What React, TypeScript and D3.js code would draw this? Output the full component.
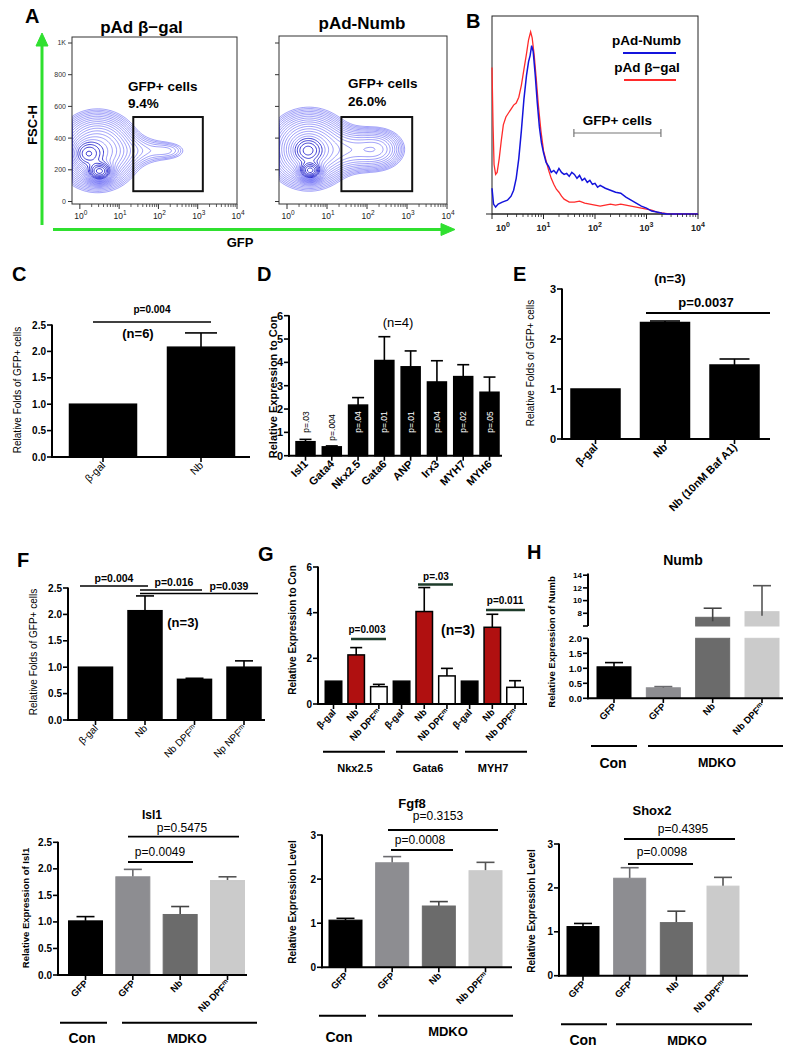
import React from "react";
import * as d3 from "d3";

const FONT = "'Liberation Sans', Arial, Helvetica, sans-serif";

/* ---------------- A: flow cytometry contour plots ---------------- */
const flowTitles = ["pAd β−gal", "pAd-Numb"];
const flowGatePercents = ["9.4%", "26.0%"];
const fscTicks = [0, 200, 400, 600, 800, 1000];
const fscTickLabels = ["0", "200", "400", "600", "800", "1K"];
const logDecades = [0, 1, 2, 3, 4];
// density components: [log10 GFP, FSC, sd(log), sd(FSC), weight]
const betaGalComponents = [
  [0.5, 190, 0.16, 30, 3.0],
  [0.2, 300, 0.2, 45, 1.3],
  [0.45, 320, 0.45, 105, 1.0],
  [1.5, 320, 0.45, 55, 0.1],
  [2.25, 320, 0.3, 35, 0.08],
];
const numbComponents = [
  [0.58, 195, 0.14, 28, 3.0],
  [0.52, 320, 0.2, 45, 1.3],
  [0.55, 330, 0.45, 105, 1.0],
  [1.6, 325, 0.45, 70, 0.3],
  [2.28, 330, 0.33, 65, 0.28],
];
const gateLog = [1.36, 3.13];
const gateFSC = [65, 533];

/* ---------------- B: GFP histogram ---------------- */
const histLegend = ["pAd-Numb", "pAd β−gal"];
const histGateLog = [1.59, 3.28];
const redLog = [0, 0.02, 0.04, 0.07, 0.1, 0.14, 0.18, 0.22, 0.27, 0.32, 0.37, 0.42, 0.47, 0.52, 0.57, 0.62, 0.67, 0.71, 0.75, 0.78, 0.82, 0.86, 0.9, 0.95, 1.0, 1.05, 1.1, 1.15, 1.2, 1.25, 1.3, 1.35, 1.4, 1.5, 1.6, 1.7, 1.8, 1.9, 2.0, 2.1, 2.2, 2.3, 2.4, 2.5, 2.6, 2.7, 2.8, 2.9, 3.0, 3.1, 3.2, 3.3, 3.4, 3.6, 4.0];
const redCount = [74, 45, 25, 20, 21, 28, 37, 45, 49, 51, 53, 55, 56, 59, 65, 73, 81, 88, 92, 89, 80, 68, 55, 42, 32, 27, 22, 18, 15, 12.5, 11, 9, 7.5, 6, 6, 6.5, 5.5, 5, 4.5, 4, 4.5, 5, 4.5, 5, 4.5, 4, 3.5, 3, 2.5, 2, 1, 0.5, 0.2, 0, 0];
const blueLog = [0, 0.03, 0.07, 0.12, 0.2, 0.3, 0.37, 0.42, 0.47, 0.52, 0.57, 0.62, 0.67, 0.71, 0.74, 0.77, 0.8, 0.84, 0.88, 0.92, 0.96, 1.0, 1.05, 1.1, 1.15, 1.2, 1.25, 1.3, 1.35, 1.4, 1.45, 1.5, 1.55, 1.6, 1.65, 1.7, 1.75, 1.8, 1.85, 1.9, 1.95, 2.0, 2.05, 2.1, 2.2, 2.3, 2.4, 2.5, 2.6, 2.7, 2.8, 2.9, 3.0, 3.1, 3.2, 3.3, 3.4, 4.0];
const blueCount = [13, 5, 3.5, 5, 6, 7, 9, 12, 18, 28, 42, 58, 70, 77, 80, 85, 82, 70, 56, 44, 36, 31, 26, 24, 21, 22, 20.5, 23, 21, 20, 20.5, 19, 21, 20, 18, 19.5, 17, 18, 16, 17, 15, 15.5, 13.5, 14.5, 13, 12, 11, 10.5, 8.5, 7, 5.5, 4, 3, 1.5, 1, 0.4, 0, 0];

/* ---------------- C ---------------- */
const cCats = ["β-gal", "Nb"];
const cVals = [1.0, 2.08];
const cErrs = [0, 0.27];
const halfTicks = [0, 0.5, 1, 1.5, 2, 2.5];

/* ---------------- D ---------------- */
const dCats = ["Isl1", "Gata4", "Nkx2.5", "Gata6", "ANP", "Irx3", "MYH7", "MYH6"];
const dVals = [0.6, 0.38, 2.17, 4.08, 3.81, 3.16, 3.39, 2.72];
const dErrs = [0.1, 0.04, 0.32, 1.02, 0.68, 0.91, 0.51, 0.65];
const dPvals = ["p=.03", "p=.004", "p=.04", "p=.01", "p=.01", "p=.04", "p=.02", "p=.05"];
const dTicks = [0, 1, 2, 3, 4, 5, 6];

/* ---------------- E ---------------- */
const eCats = ["β-gal", "Nb", "Nb (10nM Baf A1)"];
const eVals = [1.0, 2.33, 1.48];
const eErrs = [0, 0.03, 0.12];
const eTicks = [0, 1, 2, 3];

/* ---------------- F ---------------- */
const fCats = ["β-gal", "Nb", "Nb DPF^m", "Np NPF^m"];
const fVals = [1.0, 2.07, 0.77, 1.0];
const fErrs = [0, 0.28, 0.02, 0.12];

/* ---------------- G ---------------- */
const gGenes = ["Nkx2.5", "Gata6", "MYH7"];
const gConds = ["β-gal", "Nb", "Nb DPF^m"];
const gVals = [1, 2.15, 0.76, 1, 4.05, 1.23, 1, 3.36, 0.73];
const gErrs = [0, 0.32, 0.1, 0, 1.05, 0.33, 0, 0.57, 0.29];
const gCondColors = ["#000000", "#b01010", "#ffffff"];
const gTicks = [0, 2, 4, 6];

/* ---------------- H and bottom row ---------------- */
const mdkoCats = ["GFP", "GFP", "Nb", "Nb DPF^m"];
const groupNames = ["Con", "MDKO"];
const mdkoColors = ["#000000", "#8d8d91", "#6b6b6b", "#cbcbcb"];
const mdkoErrColors = ["#000000", "#6a6a6e", "#444444", "#555555"];
const numbVals = [1.05, 0.35, 7.37, 8.25];
const numbErrs = [0.14, 0.04, 1.43, 4.1];
const numbLowTicks = [0, 0.5, 1, 1.5, 2];
const numbHighTicks = [6, 8, 10, 12, 14];
const isl1Vals = [1.02, 1.85, 1.14, 1.78];
const isl1Errs = [0.08, 0.14, 0.15, 0.07];
const isl1P = ["p=0.5475", "p=0.0049"];
const fgf8Vals = [1.07, 2.37, 1.39, 2.19];
const fgf8Errs = [0.04, 0.14, 0.1, 0.19];
const fgf8P = ["p=0.3153", "p=0.0008"];
const shox2Vals = [1.12, 2.22, 1.21, 2.04];
const shox2Errs = [0.07, 0.24, 0.26, 0.2];
const shox2P = ["p=0.4395", "p=0.0098"];
const intTicks3 = [0, 1, 2, 3];

/* ---------------- helpers ---------------- */
function lbl(s: string) {
  const i = s.indexOf("^");
  if (i < 0) return s;
  return (
    <>
      {s.slice(0, i)}
      <tspan fontSize="0.7em" dy="-0.5em">{s.slice(i + 1)}</tspan>
    </>
  );
}

const f1 = (v: number) => v.toFixed(1);
const f0 = (v: number) => String(v);

type BCProps = {
  vals: number[]; errs: number[]; labels: string[];
  colors: string[]; strokes?: string[]; errColors?: string[];
  y0: number; yTop: number; yMax: number; ticks: number[]; fmt: (v: number) => string;
  axisX: number; axisEnd: number; c0: number; c1: number; barW: number; capW: number;
  tickFont: number; labelFont: number; labelBold: boolean; barStroke?: number;
};

function BarChart(p: BCProps) {
  const y = d3.scaleLinear().domain([0, p.yMax]).range([p.y0, p.yTop]);
  const x = d3.scalePoint<number>().domain(d3.range(p.vals.length)).range([p.c0, p.c1]);
  return (
    <g>
      {p.vals.map((v, i) => {
        const cx = x(i) as number;
        const e = p.errs[i];
        return (
          <g key={i}>
            {e > 0 && (
              <g stroke={p.errColors ? p.errColors[i] : "#000"} strokeWidth={1.6}>
                <line x1={cx} x2={cx} y1={y(v)} y2={y(v + e)} />
                <line x1={cx - p.capW / 2} x2={cx + p.capW / 2} y1={y(v + e)} y2={y(v + e)} />
              </g>
            )}
            <rect x={cx - p.barW / 2} y={y(v)} width={p.barW} height={p.y0 - y(v)}
              fill={p.colors[i]} stroke={p.strokes ? p.strokes[i] : "#000"} strokeWidth={p.barStroke ?? 1.5} />
          </g>
        );
      })}
      <line x1={p.axisX} x2={p.axisX} y1={p.y0 + 1} y2={y(p.yMax) - 0.5} stroke="#000" strokeWidth={2} />
      <line x1={p.axisX - 1} x2={p.axisEnd} y1={p.y0} y2={p.y0} stroke="#000" strokeWidth={2} />
      {p.ticks.map((t) => (
        <g key={t}>
          <line x1={p.axisX - 5} x2={p.axisX} y1={y(t)} y2={y(t)} stroke="#000" strokeWidth={1.6} />
          <text x={p.axisX - 6} y={y(t)} dy="0.35em" textAnchor="end" fontSize={p.tickFont} fontWeight="bold">{p.fmt(t)}</text>
        </g>
      ))}
      {p.vals.map((_, i) => (
        <line key={i} x1={x(i)} x2={x(i)} y1={p.y0} y2={p.y0 + 5} stroke="#000" strokeWidth={1.6} />
      ))}
      {p.labels.map((l, i) => (
        <text key={i} transform={`translate(${(x(i) as number) + 3},${p.y0 + 9}) rotate(-45)`}
          textAnchor="end" fontSize={p.labelFont} fontWeight={p.labelBold ? "bold" : "normal"}>{lbl(l)}</text>
      ))}
    </g>
  );
}

function YTitle({ x, y, text, size, bold }: { x: number; y: number; text: string; size: number; bold?: boolean }) {
  return (
    <text transform={`translate(${x},${y}) rotate(-90)`} textAnchor="middle" fontSize={size} fontWeight={bold ? "bold" : "normal"}>{text}</text>
  );
}

function Sig({ x1, x2, y, label, ty, tx, size, bold, color, w }: { x1: number; x2: number; y: number; label: string; ty: number; tx?: number; size: number; bold?: boolean; color?: string; w?: number }) {
  return (
    <g>
      <line x1={x1} x2={x2} y1={y} y2={y} stroke={color ?? "#000"} strokeWidth={w ?? 1.8} />
      <text x={tx ?? (x1 + x2) / 2} y={ty} textAnchor="middle" fontSize={size} fontWeight={bold ? "bold" : "normal"}>{label}</text>
    </g>
  );
}

function PanelLetter({ x, y, t }: { x: number; y: number; t: string }) {
  return <text x={x} y={y} fontSize={20} fontWeight="bold">{t}</text>;
}

function Groups({ y, segs, labelXs, labelYs, sizes }: { y: number; segs: number[][]; labelXs: number[]; labelYs: number[]; sizes: number[] }) {
  return (
    <g>
      {segs.map((s, i) => (
        <line key={i} x1={s[0]} x2={s[1]} y1={y} y2={y} stroke="#000" strokeWidth={2} />
      ))}
      {groupNames.map((g, i) => (
        <text key={g} x={labelXs[i]} y={labelYs[i]} textAnchor="middle" fontSize={sizes[i]} fontWeight="bold">{g}</text>
      ))}
    </g>
  );
}

/* ---------------- Flow plot ---------------- */
function FlowPlot({ x0, x1, top, comps, showYLabels, id }: { x0: number; x1: number; top: number; comps: number[][]; showYLabels: boolean; id: string }) {
  const logMin = -0.2, logMax = 4, fMax = 1024;
  const xs = d3.scaleLog().domain([10 ** logMin, 10 ** logMax]).range([x0, x1]);
  const ys = d3.scaleLinear().domain([0, 1000]).range([201.5, 43]);
  const n = 150, m = 120;
  const values: number[] = new Array(n * m);
  for (let j = 0; j < m; j++) {
    for (let i = 0; i < n; i++) {
      const lx = logMin + ((i + 0.5) / n) * (logMax - logMin);
      const f = ((j + 0.5) / m) * fMax;
      let s = 0;
      for (const c of comps) {
        const a = (lx - c[0]) / c[2];
        const b = (f - c[1]) / c[3];
        s += c[4] * Math.exp(-0.5 * (a * a + b * b));
      }
      values[j * n + i] = s;
    }
  }
  const mx = d3.max(values) as number;
  const levels = 22;
  const thresholds = d3.range(levels).map((k) => mx * 0.012 * Math.pow(0.9 / 0.012, k / (levels - 1)));
  const contours = d3.contours().size([n, m]).thresholds(thresholds)(values);
  const proj = d3.geoTransform({
    point: function (this: any, px: number, py: number) {
      this.stream.point(xs(10 ** (logMin + (px / n) * (logMax - logMin))), ys((py / m) * fMax));
    },
  });
  const path = d3.geoPath(proj);
  const minors: number[] = [];
  for (let d = 0; d < 4; d++) for (let k = 2; k <= 9; k++) minors.push(k * 10 ** d);
  const bottom = 204;
  return (
    <g>
      <defs>
        <clipPath id={id}>
          <rect x={x0} y={top} width={x1 - x0} height={bottom - top} />
        </clipPath>
      </defs>
      <g clipPath={`url(#${id})`}>
        {contours.map((c, i) => (
          <path key={i} d={path(c as any) || ""} fill="none" stroke={i > 15 ? "#1010c8" : "#3a3af0"} strokeWidth={i > 15 ? 0.9 : 0.55} strokeOpacity={0.9} />
        ))}
      </g>
      <rect x={x0} y={top} width={x1 - x0} height={bottom - top} fill="none" stroke="#333" strokeWidth={1} />
      <rect x={xs(10 ** gateLog[0])} y={ys(gateFSC[1])} width={xs(10 ** gateLog[1]) - xs(10 ** gateLog[0])} height={ys(gateFSC[0]) - ys(gateFSC[1])} fill="none" stroke="#111" strokeWidth={2} />
      {fscTicks.map((t, i) => (
        <g key={t}>
          <line x1={x0 - 4} x2={x0} y1={ys(t)} y2={ys(t)} stroke="#333" strokeWidth={1} />
          {showYLabels && (
            <text x={x0 - 6} y={ys(t)} dy="0.35em" textAnchor="end" fontSize={7} fill="#333">{fscTickLabels[i]}</text>
          )}
        </g>
      ))}
      {logDecades.map((d) => (
        <g key={d}>
          <line x1={xs(10 ** d)} x2={xs(10 ** d)} y1={bottom} y2={bottom + 5} stroke="#333" strokeWidth={1} />
          <text x={Math.max(xs(10 ** d), x0 + 6) + 1} y={bottom + 15} textAnchor="middle" fontSize={8.5} fill="#222">
            10<tspan fontSize={6.5} dy={-4}>{d}</tspan>
          </text>
        </g>
      ))}
      {minors.map((v) => (
        <line key={v} x1={xs(v)} x2={xs(v)} y1={bottom} y2={bottom + 3} stroke="#333" strokeWidth={0.8} />
      ))}
    </g>
  );
}

/* ---------------- Histogram (B) ---------------- */
function Histogram() {
  const xs = d3.scaleLog().domain([1, 1e4]).range([492, 698]);
  const ys = d3.scaleLinear().domain([0, 100]).range([214, 16]);
  const redLine = d3.line<number>().x((i) => xs(10 ** redLog[i])).y((i) => ys(redCount[i]))(d3.range(redLog.length)) || "";
  const blueLine = d3.line<number>().x((i) => xs(10 ** blueLog[i])).y((i) => ys(blueCount[i]))(d3.range(blueLog.length)) || "";
  const minors: number[] = [];
  for (let d = 0; d < 4; d++) for (let k = 2; k <= 9; k++) minors.push(k * 10 ** d);
  const g0 = xs(10 ** histGateLog[0]), g1 = xs(10 ** histGateLog[1]);
  return (
    <g>
      <rect x={492} y={16} width={206} height={198} fill="none" stroke="#222" strokeWidth={1} />
      <line x1={486} x2={698} y1={214} y2={214} stroke="#222" strokeWidth={1.2} />
      <path d={redLine} fill="none" stroke="#ff2a2a" strokeWidth={1.3} />
      <path d={blueLine} fill="none" stroke="#1414dc" strokeWidth={1.5} />
      {logDecades.map((d) => (
        <g key={d}>
          <line x1={xs(10 ** d)} x2={xs(10 ** d)} y1={214} y2={219} stroke="#222" strokeWidth={1} />
          <text x={Math.max(xs(10 ** d), 503)} y={231} textAnchor="middle" fontSize={9} fontWeight="bold" fill="#222">
            10<tspan fontSize={7} dy={-4}>{d}</tspan>
          </text>
        </g>
      ))}
      {minors.map((v) => (
        <line key={v} x1={xs(v)} x2={xs(v)} y1={214} y2={217} stroke="#222" strokeWidth={0.8} />
      ))}
      <text x={646.5} y={45} textAnchor="middle" fontSize={13.5} fontWeight="bold">{histLegend[0]}</text>
      <line x1={623} x2={676} y1={53} y2={53} stroke="#1414dc" strokeWidth={2} />
      <text x={647} y={72} textAnchor="middle" fontSize={13.5} fontWeight="bold">{histLegend[1]}</text>
      <line x1={624} x2={676} y1={80} y2={80} stroke="#ff2a2a" strokeWidth={2} />
      <text x={(g0 + g1) / 2} y={125} textAnchor="middle" fontSize={13.5} fontWeight="bold">GFP+ cells</text>
      <g stroke="#777" strokeWidth={1.2}>
        <line x1={g0} x2={g1} y1={133} y2={133} />
        <line x1={g0} x2={g0} y1={129} y2={137} />
        <line x1={g1} x2={g1} y1={129} y2={137} />
      </g>
    </g>
  );
}

/* ---------------- Numb (H) broken axis ---------------- */
function NumbPanel() {
  const yLow = d3.scaleLinear().domain([0, 2]).range([698.3, 638.3]);
  const yHigh = d3.scaleLinear().domain([6, 14]).range([626, 575.2]);
  const x = d3.scalePoint<number>().domain(d3.range(numbVals.length)).range([614, 762]);
  const bw = 34, cap = 18, ax = 588;
  return (
    <g>
      {numbVals.map((v, i) => {
        const cx = x(i) as number;
        const e = numbErrs[i];
        const low = yLow(Math.min(v, 2));
        const ec = mdkoErrColors[i];
        return (
          <g key={i}>
            <rect x={cx - bw / 2} y={low} width={bw} height={698.3 - low} fill={mdkoColors[i]} stroke={mdkoColors[i]} strokeWidth={1} />
            {v > 6 && (
              <rect x={cx - bw / 2} y={yHigh(v)} width={bw} height={yHigh(6) - yHigh(v)} fill={mdkoColors[i]} stroke={mdkoColors[i]} strokeWidth={1} />
            )}
            {v <= 2 ? (
              <g stroke={ec} strokeWidth={1.6}>
                <line x1={cx} x2={cx} y1={yLow(v)} y2={yLow(v + e)} />
                <line x1={cx - cap / 2} x2={cx + cap / 2} y1={yLow(v + e)} y2={yLow(v + e)} />
              </g>
            ) : (
              <g stroke={ec} strokeWidth={1.6}>
                <line x1={cx} x2={cx} y1={yHigh(v) + 4} y2={yHigh(v + e)} />
                <line x1={cx - cap / 2} x2={cx + cap / 2} y1={yHigh(v + e)} y2={yHigh(v + e)} />
              </g>
            )}
            <line x1={cx} x2={cx} y1={698.3} y2={703} stroke="#000" strokeWidth={1.6} />
            <text transform={`translate(${cx + 3},${707}) rotate(-45)`} textAnchor="end" fontSize={9.5} fontWeight="bold">{lbl(mdkoCats[i])}</text>
          </g>
        );
      })}
      <line x1={ax} x2={ax} y1={699.3} y2={638.3} stroke="#000" strokeWidth={2} />
      <line x1={ax} x2={ax} y1={626} y2={573.5} stroke="#000" strokeWidth={2} />
      <line x1={ax - 1} x2={783} y1={698.3} y2={698.3} stroke="#000" strokeWidth={2} />
      {numbLowTicks.map((t) => (
        <g key={t}>
          <line x1={ax - 5} x2={ax} y1={yLow(t)} y2={yLow(t)} stroke="#000" strokeWidth={1.6} />
          <text x={ax - 6} y={yLow(t)} dy="0.35em" textAnchor="end" fontSize={9.5} fontWeight="bold">{f1(t)}</text>
        </g>
      ))}
      {numbHighTicks.map((t) => (
        <g key={t}>
          <line x1={ax - 5} x2={ax} y1={yHigh(t)} y2={yHigh(t)} stroke="#000" strokeWidth={1.6} />
          {t > 6 && <text x={ax - 6} y={yHigh(t)} dy="0.35em" textAnchor="end" fontSize={8} fontWeight="bold">{f0(t)}</text>}
        </g>
      ))}
    </g>
  );
}

export default function App() {
  const dX = d3.scalePoint<number>().domain(d3.range(dVals.length)).range([305.5, 489.5]);
  const gLabels = gGenes.flatMap(() => gConds);
  const gColors = gGenes.flatMap(() => gCondColors);
  return (
    <svg width={795} height={1053} style={{ position: "absolute", left: 0, top: 0, background: "#fff" }} fontFamily={FONT}>
      <rect width={795} height={1053} fill="#fff" />
      {/* ---------- A ---------- */}
      <PanelLetter x={25} y={23} t="A" />
      <text x={141.5} y={33} textAnchor="middle" fontSize={17} fontWeight="bold">{flowTitles[0]}</text>
      <text x={362} y={29} textAnchor="middle" fontSize={17} fontWeight="bold">{flowTitles[1]}</text>
      <FlowPlot x0={72} x1={237} top={37} comps={betaGalComponents} showYLabels={true} id="clipA1" />
      <FlowPlot x0={279} x1={447} top={36} comps={numbComponents} showYLabels={false} id="clipA2" />
      <text x={128} y={91} fontSize={13.5} fontWeight="bold">GFP+ cells</text>
      <text x={128} y={108} fontSize={13.5} fontWeight="bold">{flowGatePercents[0]}</text>
      <text x={348} y={88} fontSize={13.5} fontWeight="bold">GFP+ cells</text>
      <text x={348} y={106} fontSize={13.5} fontWeight="bold">{flowGatePercents[1]}</text>
      <g fill="#2fe02f" stroke="#2fe02f">
        <line x1={42} x2={42} y1={225} y2={42} strokeWidth={3} />
        <polygon points="42,33 36,46 48,46" strokeWidth={1} />
        <line x1={53} x2={442} y1={229.5} y2={229.5} strokeWidth={3} />
        <polygon points="455,229.5 441,223.5 441,235.5" strokeWidth={1} />
      </g>
      <YTitle x={37} y={125} text="FSC-H" size={13} bold />
      <text x={240} y={247} textAnchor="middle" fontSize={13} fontWeight="bold">GFP</text>

      {/* ---------- B ---------- */}
      <PanelLetter x={466} y={28} t="B" />
      <Histogram />

      {/* ---------- C ---------- */}
      <PanelLetter x={12} y={281} t="C" />
      <BarChart vals={cVals} errs={cErrs} labels={cCats} colors={["#000", "#000"]} y0={457} yTop={325} yMax={2.5}
        ticks={halfTicks} fmt={f1} axisX={52} axisEnd={250} c0={103} c1={201} barW={67} capW={32}
        tickFont={10} labelFont={10.5} labelBold={false} />
      <YTitle x={21} y={390} text="Relative Folds of GFP+ cells" size={10} />
      <Sig x1={93} x2={211} y={322} label="p=0.004" ty={313} size={10} bold w={1.6} />
      <text x={138} y={338} textAnchor="middle" fontSize={13} fontWeight="bold">(n=6)</text>

      {/* ---------- D ---------- */}
      <PanelLetter x={257} y={281} t="D" />
      <BarChart vals={dVals} errs={dErrs} labels={dCats} colors={dVals.map(() => "#000")} y0={455.7} yTop={315.7} yMax={6}
        ticks={dTicks} fmt={f0} axisX={289} axisEnd={502} c0={305.5} c1={489.5} barW={19} capW={12}
        tickFont={11} labelFont={11} labelBold={true} />
      {dVals.map((v, i) => (
        <text key={i} transform={`translate(${(dX(i) as number) + 3},${i === 1 ? 427.5 : 422}) rotate(-90)`} textAnchor="middle"
          fontSize={8.5} fill={v > 1.5 ? "#fff" : "#000"}>{dPvals[i]}</text>
      ))}
      <YTitle x={277} y={387} text="Relative Expression to Con" size={11} bold />
      <text x={398} y={327} textAnchor="middle" fontSize={13}>(n=4)</text>

      {/* ---------- E ---------- */}
      <PanelLetter x={513} y={281} t="E" />
      <BarChart vals={eVals} errs={eErrs} labels={eCats} colors={eVals.map(() => "#000")} y0={439} yTop={289} yMax={3}
        ticks={eTicks} fmt={f0} axisX={562} axisEnd={770} c0={595.5} c1={734.5} barW={49} capW={30}
        tickFont={11} labelFont={11} labelBold={true} />
      <YTitle x={534} y={363} text="Relative Folds of GFP+ cells" size={10} />
      <text x={670} y={283} textAnchor="middle" fontSize={13} fontWeight="bold">(n=3)</text>
      <Sig x1={646} x2={770} y={313} label="p=0.0037" ty={307} tx={706} size={13} bold w={2} />

      {/* ---------- F ---------- */}
      <PanelLetter x={17} y={567} t="F" />
      <BarChart vals={fVals} errs={fErrs} labels={fCats} colors={fVals.map(() => "#000")} y0={720} yTop={588} yMax={2.5}
        ticks={halfTicks} fmt={f1} axisX={68} axisEnd={265} c0={95.5} c1={244} barW={34} capW={18}
        tickFont={10} labelFont={10} labelBold={false} />
      <YTitle x={37} y={652} text="Relative Folds of GFP+ cells" size={10} />
      <Sig x1={80} x2={148} y={586} label="p=0.004" ty={582} tx={114} size={10.5} bold w={1.5} />
      <Sig x1={140} x2={202} y={590} label="p=0.016" ty={586} tx={174} size={10.5} bold w={1.5} />
      <Sig x1={140} x2={258} y={593.5} label="p=0.039" ty={589.5} tx={229} size={10.5} bold w={1.5} />
      <text x={183} y={627} textAnchor="middle" fontSize={13} fontWeight="bold">(n=3)</text>

      {/* ---------- G ---------- */}
      <PanelLetter x={258} y={561} t="G" />
      <BarChart vals={gVals} errs={gErrs} labels={gLabels} colors={gColors} y0={704} yTop={567} yMax={6}
        ticks={gTicks} fmt={f0} axisX={318} axisEnd={527} c0={333.5} c1={515} barW={16.5} capW={12}
        tickFont={10} labelFont={9.5} labelBold={true} />
      <YTitle x={296} y={630} text="Relative Expression to Con" size={10} bold />
      <Sig x1={351} x2={386} y={639} label="p=0.003" ty={633} tx={367} size={10} bold color="#1d3b2a" w={2.5} />
      <Sig x1={418} x2={453} y={584.5} label="p=.03" ty={579.5} tx={436} size={10} bold color="#1d3b2a" w={2.5} />
      <Sig x1={486} x2={525} y={610} label="p=0.011" ty={604} tx={505} size={10} bold color="#1d3b2a" w={2.5} />
      <text x={458} y={635} textAnchor="middle" fontSize={14} fontWeight="bold">(n=3)</text>
      <g>
        {[[323, 385], [396, 458], [465, 527]].map((s, i) => (
          <line key={i} x1={s[0]} x2={s[1]} y1={751.7} y2={751.7} stroke="#000" strokeWidth={2} />
        ))}
        {gGenes.map((gname, i) => (
          <text key={gname} x={[355, 428, 493][i]} y={772} textAnchor="middle" fontSize={11} fontWeight="bold">{gname}</text>
        ))}
      </g>

      {/* ---------- H ---------- */}
      <PanelLetter x={527} y={559} t="H" />
      <text x={683} y={565} textAnchor="middle" fontSize={14} fontWeight="bold">Numb</text>
      <NumbPanel />
      <YTitle x={555} y={642} text="Relative Expression of Numb" size={9.5} bold />
      <Groups y={746} segs={[[591, 637], [648, 783]]} labelXs={[613, 717]} labelYs={[768, 767]} sizes={[14, 12.5]} />

      {/* ---------- Isl1 ---------- */}
      <text x={152} y={819} textAnchor="middle" fontSize={12} fontWeight="bold">Isl1</text>
      <BarChart vals={isl1Vals} errs={isl1Errs} labels={mdkoCats} colors={mdkoColors} strokes={mdkoColors} errColors={mdkoErrColors}
        y0={975} yTop={842.3} yMax={2.5} ticks={halfTicks} fmt={f1} axisX={58} axisEnd={247} c0={85.5} c1={227.5} barW={34} capW={18}
        tickFont={10} labelFont={9.5} labelBold={true} barStroke={1} />
      <YTitle x={29} y={908} text="Relative Expression of Isl1" size={9.5} bold />
      <Sig x1={128} x2={239} y={836.7} label={isl1P[0]} ty={832} tx={182} size={12} />
      <Sig x1={128} x2={193} y={862} label={isl1P[1]} ty={856} tx={160} size={12} />
      <Groups y={1022.7} segs={[[60, 107], [122, 257]]} labelXs={[82, 187]} labelYs={[1043, 1043]} sizes={[14, 13]} />

      {/* ---------- Fgf8 ---------- */}
      <text x={412} y={808} textAnchor="middle" fontSize={13} fontWeight="bold">Fgf8</text>
      <BarChart vals={fgf8Vals} errs={fgf8Errs} labels={mdkoCats} colors={mdkoColors} strokes={mdkoColors} errColors={mdkoErrColors}
        y0={967.3} yTop={835} yMax={3} ticks={intTicks3} fmt={f0} axisX={322} axisEnd={512} c0={345.5} c1={485.5} barW={33} capW={18}
        tickFont={10} labelFont={9.5} labelBold={true} barStroke={1} />
      <YTitle x={296} y={902} text="Relative Expression Level" size={10} bold />
      <Sig x1={388} x2={498} y={830} label={fgf8P[0]} ty={820} tx={438} size={12} />
      <Sig x1={391} x2={453} y={850} label={fgf8P[1]} ty={844} tx={420} size={12} />
      <Groups y={1015.7} segs={[[319, 366], [378, 513]]} labelXs={[339, 448]} labelYs={[1041.7, 1035.7]} sizes={[14, 13]} />

      {/* ---------- Shox2 ---------- */}
      <text x={652} y={815} textAnchor="middle" fontSize={13} fontWeight="bold">Shox2</text>
      <BarChart vals={shox2Vals} errs={shox2Errs} labels={mdkoCats} colors={mdkoColors} strokes={mdkoColors} errColors={mdkoErrColors}
        y0={975.7} yTop={844} yMax={3} ticks={intTicks3} fmt={f0} axisX={559} axisEnd={748} c0={583} c1={723} barW={32} capW={18}
        tickFont={10} labelFont={9.5} labelBold={true} barStroke={1} />
      <YTitle x={535} y={911} text="Relative Expression Level" size={10} bold />
      <Sig x1={624} x2={735} y={839} label={shox2P[0]} ty={833} tx={683} size={12} />
      <Sig x1={628} x2={693} y={864} label={shox2P[1]} ty={856} tx={662} size={12} />
      <Groups y={1024.3} segs={[[561, 607], [616, 752]]} labelXs={[583, 687]} labelYs={[1045, 1045]} sizes={[14, 13]} />
    </svg>
  );
}
